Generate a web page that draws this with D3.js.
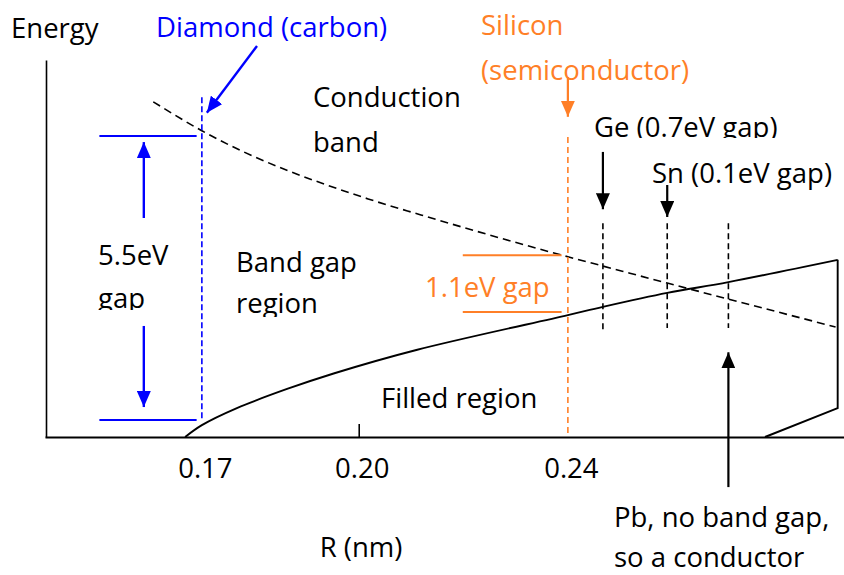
<!DOCTYPE html>
<html>
<head>
<meta charset="utf-8">
<script src="https://cdn.jsdelivr.net/npm/d3@7"></script>
<style>
  html, body { margin: 0; padding: 0; background: #fff; }
  svg { display: block; }
  text { font-family: "Open Sans", "Noto Sans", sans-serif; font-size: 27.5px; }
</style>
</head>
<body>
<svg id="chart" width="844" height="575"></svg>
<script>
// Atomic spacing R (nm) labelled on the axis
const rTicks = [0.17, 0.20, 0.24];

// Bottom of the conduction band (eV) against R (nm)
const conductionR = [0.1607, 0.170, 0.2018, 0.2119, 0.240, 0.2467, 0.259, 0.2707, 0.2912];
const conductionE = [6.49, 5.93, 4.61, 4.30, 3.49, 3.31, 2.98, 2.67, 2.13];

// Top of the filled (valence) band (eV) against R (nm)
const valenceR = [0.1668, 0.170, 0.1767, 0.1863, 0.1952, 0.2112, 0.240, 0.2467, 0.259, 0.2707, 0.2916];
const valenceE = [0, 0.23, 0.56, 0.93, 1.23, 1.69, 2.36, 2.52, 2.79, 3.00, 3.43];

// Closing edge of the filled region
const edgeR = [0.2916, 0.2916, 0.2777];
const edgeE = [3.43, 0.56, 0];

// Band gaps that are labelled
const diamondR = 0.17, diamondGap = 5.5, diamondBase = 0.33;
const siliconR = 0.24, siliconGap = 1.1, siliconBase = 2.42;

// Other elements marked along R
const elementNames = ["Ge", "Sn", "Pb"];
const elementR = [0.2467, 0.259, 0.2707];

const blue = "#0000ff";
const orange = "#ff7f27";

const svg = d3.select("#chart");
const x = d3.scaleLinear().domain([0.14, 0.293]).range([45, 845]);
const y = d3.scaleLinear().domain([0, 7.3]).range([437, 60]);

const defs = svg.append("defs");
function marker(id, color) {
  defs.append("marker")
    .attr("id", id)
    .attr("markerUnits", "userSpaceOnUse")
    .attr("viewBox", "0 0 16 14")
    .attr("markerWidth", 16).attr("markerHeight", 14)
    .attr("refX", 16).attr("refY", 7)
    .attr("orient", "auto")
    .append("path").attr("d", "M0,0 L16,7 L0,14 Z").attr("fill", color);
}
marker("headBlue", blue);
marker("headOrange", orange);
marker("headBlack", "#000");

function clip(id, x0, y0, w, h) {
  defs.append("clipPath").attr("id", id)
    .append("rect").attr("x", x0).attr("y", y0).attr("width", w).attr("height", h);
}
clip("clipGap", 0, 270, 200, 40);
clip("clipRegion", 200, 280, 200, 37);
clip("clipGe", 580, 100, 260, 38);

// Axes
const xAxis = svg.append("g").attr("transform", `translate(0,${y(0)})`)
  .call(d3.axisBottom(x).tickValues(rTicks).tickSize(0).tickSizeOuter(0)
        .tickPadding(21).tickFormat(d3.format(".2f")));
xAxis.select(".domain").attr("stroke", "#000").attr("stroke-width", 2.2);
xAxis.selectAll("text").attr("font-size", 27.5).attr("fill", "#000")
  .attr("font-family", "Open Sans, Noto Sans, sans-serif").attr("dx", 3);

svg.append("g").attr("transform", `translate(0,${y(0)})`)
  .call(d3.axisTop(x).tickValues([0.20]).tickSize(13).tickFormat(""))
  .call(g => g.select(".domain").remove())
  .selectAll("line").attr("stroke", "#000").attr("stroke-width", 1.6);

const yAxis = svg.append("g").attr("transform", "translate(46,0)")
  .call(d3.axisLeft(y).tickValues([]).tickSizeOuter(0));
yAxis.select(".domain").attr("stroke", "#000").attr("stroke-width", 1.6);

svg.append("text").attr("x", 11).attr("y", 38).text("Energy");
svg.append("text").attr("x", 361).attr("y", 557).attr("text-anchor", "middle").text("R (nm)");

// Bands
const line = d3.line().x(d => x(d[0])).y(d => y(d[1]));
const conduction = d3.zip(conductionR, conductionE);
const valence = d3.zip(valenceR, valenceE);
const edge = d3.zip(edgeR, edgeE);

svg.append("path").datum(conduction)
  .attr("d", line.curve(d3.curveMonotoneX))
  .attr("fill", "none").attr("stroke", "#000").attr("stroke-width", 1.6)
  .attr("stroke-dasharray", "8,5");

svg.append("path").datum(valence)
  .attr("d", line.curve(d3.curveCatmullRom))
  .attr("fill", "none").attr("stroke", "#000").attr("stroke-width", 1.9);

svg.append("path").datum(edge)
  .attr("d", line.curve(d3.curveLinear))
  .attr("fill", "none").attr("stroke", "#000").attr("stroke-width", 1.9);

// Diamond
svg.append("line")
  .attr("x1", x(diamondR)).attr("x2", x(diamondR))
  .attr("y1", y(6.58)).attr("y2", y(diamondBase - 0.02))
  .attr("stroke", blue).attr("stroke-width", 1.6).attr("stroke-dasharray", "6,3");
[diamondBase, diamondBase + diamondGap].forEach(e => {
  svg.append("line")
    .attr("x1", x(0.1504)).attr("x2", x(0.1690))
    .attr("y1", y(e)).attr("y2", y(e))
    .attr("stroke", blue).attr("stroke-width", 2);
});
const dArrowX = x(0.1589);
svg.append("line").attr("x1", dArrowX).attr("x2", dArrowX)
  .attr("y1", y(4.24)).attr("y2", y(diamondBase + diamondGap - 0.12))
  .attr("stroke", blue).attr("stroke-width", 2.4).attr("marker-end", "url(#headBlue)");
svg.append("line").attr("x1", dArrowX).attr("x2", dArrowX)
  .attr("y1", y(2.15)).attr("y2", y(diamondBase + 0.25))
  .attr("stroke", blue).attr("stroke-width", 2.4).attr("marker-end", "url(#headBlue)");
svg.append("text").attr("x", 98).attr("y", 265).text("5.5eV");
svg.append("text").attr("x", 98).attr("y", 308).attr("clip-path", "url(#clipGap)").text("gap");

svg.append("text").attr("x", 156).attr("y", 37).attr("fill", blue).text("Diamond (carbon)");
svg.append("line").attr("x1", 257).attr("y1", 46).attr("x2", x(diamondR) + 5).attr("y2", y(6.28))
  .attr("stroke", blue).attr("stroke-width", 2.4).attr("marker-end", "url(#headBlue)");

// Silicon
svg.append("line")
  .attr("x1", x(siliconR)).attr("x2", x(siliconR))
  .attr("y1", y(5.81)).attr("y2", y(0))
  .attr("stroke", orange).attr("stroke-width", 1.6).attr("stroke-dasharray", "6,4");
[siliconBase, siliconBase + siliconGap].forEach(e => {
  svg.append("line")
    .attr("x1", x(0.2199)).attr("x2", x(0.2388))
    .attr("y1", y(e)).attr("y2", y(e))
    .attr("stroke", orange).attr("stroke-width", 2);
});
svg.append("text").attr("x", 425).attr("y", 297).attr("fill", orange).text("1.1eV gap");
svg.append("text").attr("x", 481).attr("y", 35).attr("fill", orange).text("Silicon");
svg.append("text").attr("x", 481).attr("y", 80).attr("fill", orange).text("(semiconductor)");
svg.append("line").attr("x1", x(siliconR)).attr("x2", x(siliconR))
  .attr("y1", y(6.97)).attr("y2", y(6.20))
  .attr("stroke", orange).attr("stroke-width", 2.2).attr("marker-end", "url(#headOrange)");

// Ge, Sn, Pb markers
const markerTop = [4.14, 4.14, 4.14];
const markerBottom = [2.03, 2.11, 2.11];
elementR.forEach((r, i) => {
  svg.append("line").attr("x1", x(r)).attr("x2", x(r))
    .attr("y1", y(markerTop[i])).attr("y2", y(markerBottom[i]))
    .attr("stroke", "#000").attr("stroke-width", 1.6).attr("stroke-dasharray", "6,4");
});
svg.append("line").attr("x1", x(elementR[0])).attr("x2", x(elementR[0]))
  .attr("y1", y(5.52)).attr("y2", y(4.41))
  .attr("stroke", "#000").attr("stroke-width", 2.2).attr("marker-end", "url(#headBlack)");
svg.append("line").attr("x1", x(elementR[1])).attr("x2", x(elementR[1]))
  .attr("y1", y(4.88)).attr("y2", y(4.26))
  .attr("stroke", "#000").attr("stroke-width", 2.2).attr("marker-end", "url(#headBlack)");
svg.append("line").attr("x1", x(elementR[2])).attr("x2", x(elementR[2]))
  .attr("y1", y(-0.97)).attr("y2", y(1.64))
  .attr("stroke", "#000").attr("stroke-width", 2.2).attr("marker-end", "url(#headBlack)");

svg.append("text").attr("x", 594).attr("y", 137).attr("clip-path", "url(#clipGe)")
  .text(`${elementNames[0]} (0.7eV gap)`);
svg.append("text").attr("x", 652).attr("y", 183).text(`${elementNames[1]} (0.1eV gap)`);
svg.append("text").attr("x", 614).attr("y", 527).text(`${elementNames[2]}, no band gap,`);
svg.append("text").attr("x", 614).attr("y", 567).text("so a conductor");

// Region labels
svg.append("text").attr("x", 313).attr("y", 107).text("Conduction");
svg.append("text").attr("x", 313).attr("y", 152).text("band");
svg.append("text").attr("x", 236).attr("y", 272).text("Band gap");
svg.append("text").attr("x", 236).attr("y", 313).attr("clip-path", "url(#clipRegion)").text("region");
svg.append("text").attr("x", 381).attr("y", 408).text("Filled region");
</script>
</body>
</html>
